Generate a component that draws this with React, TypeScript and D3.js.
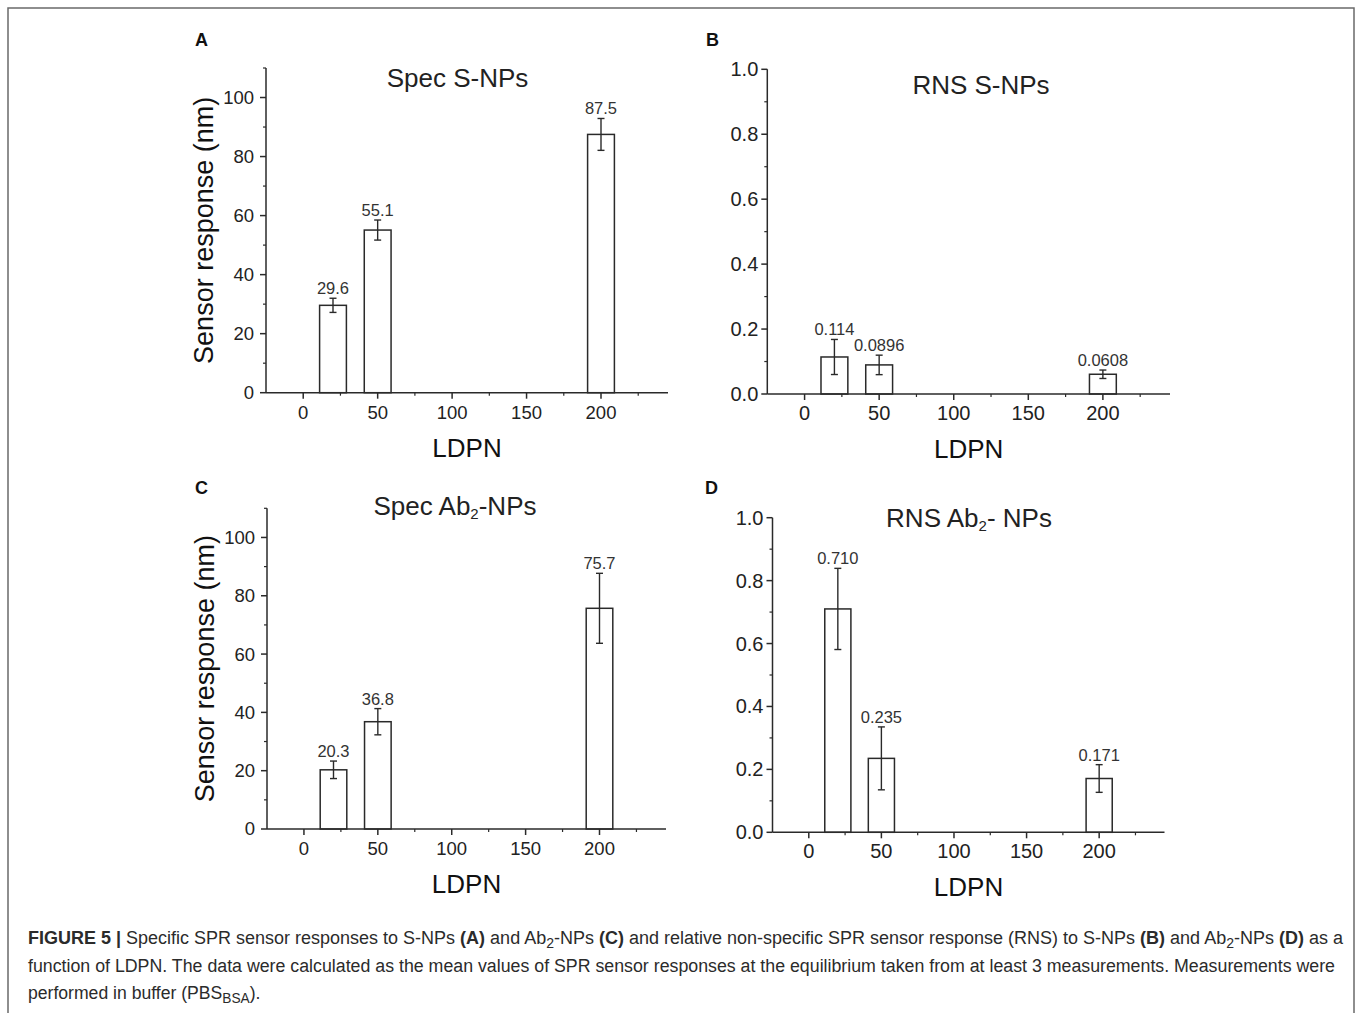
import React from "react";
import * as d3 from "d3";

// ---------- data ----------
const ldpn = [20, 50, 200];

const specSValues = [29.6, 55.1, 87.5];
const specSErrors = [2.4, 3.4, 5.4];
const specSLabels = ["29.6", "55.1", "87.5"];

const rnsSValues = [0.114, 0.0896, 0.0608];
const rnsSErrors = [0.054, 0.03, 0.013];
const rnsSLabels = ["0.114", "0.0896", "0.0608"];

const specAbValues = [20.3, 36.8, 75.7];
const specAbErrors = [3.0, 4.5, 12.0];
const specAbLabels = ["20.3", "36.8", "75.7"];

const rnsAbValues = [0.71, 0.235, 0.171];
const rnsAbErrors = [0.129, 0.1, 0.044];
const rnsAbLabels = ["0.710", "0.235", "0.171"];

const xMajorTicks = [0, 50, 100, 150, 200];
const xMinorTicks = [25, 75, 125, 175, 225];
const specMajorTicks = [0, 20, 40, 60, 80, 100];
const specMinorTicks = [10, 30, 50, 70, 90, 110];
const rnsMajorTicks = [0, 0.2, 0.4, 0.6, 0.8, 1.0];
const rnsMinorTicks = [0.1, 0.3, 0.5, 0.7, 0.9];

const xDomain: [number, number] = [-25, 245];
const specDomain: [number, number] = [0, 110];
const rnsDomain: [number, number] = [0, 1.0];
const barWidthUnits = 18;

// ---------- layout ----------
type PanelCfg = {
  letter: string;
  letterX: number;
  letterY: number;
  title: React.ReactNode;
  titleX: number;
  titleY: number;
  left: number;
  right: number;
  top: number;
  bottom: number;
  values: number[];
  errors: number[];
  labels: string[];
  yDomain: [number, number];
  yMajor: number[];
  yMinor: number[];
  yFmt: (v: number) => string;
  yLabel: boolean;
  tickFont: number;
  tickGap: number;
};

const FONT = "'Liberation Sans', Arial, Helvetica, sans-serif";
const INK = "#2a2a2a";

const sub2 = (
  <tspan baselineShift="-28%" fontSize="15">
    2
  </tspan>
);

const panels: PanelCfg[] = [
  {
    letter: "A",
    letterX: 195,
    letterY: 46,
    title: "Spec S-NPs",
    titleX: 457.5,
    titleY: 87,
    left: 266,
    right: 668,
    top: 68,
    bottom: 392.7,
    values: specSValues,
    errors: specSErrors,
    labels: specSLabels,
    yDomain: specDomain,
    yMajor: specMajorTicks,
    yMinor: specMinorTicks,
    yFmt: d3.format("d"),
    yLabel: true,
    tickFont: 18.5,
    tickGap: 12,
  },
  {
    letter: "B",
    letterX: 706,
    letterY: 46,
    title: "RNS S-NPs",
    titleX: 981,
    titleY: 94,
    left: 767.3,
    right: 1170,
    top: 69.3,
    bottom: 394,
    values: rnsSValues,
    errors: rnsSErrors,
    labels: rnsSLabels,
    yDomain: rnsDomain,
    yMajor: rnsMajorTicks,
    yMinor: rnsMinorTicks,
    yFmt: d3.format(".1f"),
    yLabel: false,
    tickFont: 20,
    tickGap: 9,
  },
  {
    letter: "C",
    letterX: 195,
    letterY: 494,
    title: (
      <>
        Spec Ab{sub2}-NPs
      </>
    ),
    titleX: 455,
    titleY: 515,
    left: 267,
    right: 666,
    top: 508.3,
    bottom: 829,
    values: specAbValues,
    errors: specAbErrors,
    labels: specAbLabels,
    yDomain: specDomain,
    yMajor: specMajorTicks,
    yMinor: specMinorTicks,
    yFmt: d3.format("d"),
    yLabel: true,
    tickFont: 18.5,
    tickGap: 12,
  },
  {
    letter: "D",
    letterX: 705,
    letterY: 494,
    title: (
      <>
        RNS Ab{sub2}- NPs
      </>
    ),
    titleX: 969,
    titleY: 527,
    left: 772.5,
    right: 1164.5,
    top: 517.7,
    bottom: 832.3,
    values: rnsAbValues,
    errors: rnsAbErrors,
    labels: rnsAbLabels,
    yDomain: rnsDomain,
    yMajor: rnsMajorTicks,
    yMinor: rnsMinorTicks,
    yFmt: d3.format(".1f"),
    yLabel: false,
    tickFont: 20,
    tickGap: 9,
  },
];

function Panel({ p }: { p: PanelCfg }) {
  const x = d3.scaleLinear().domain(xDomain).range([p.left, p.right]);
  const y = d3.scaleLinear().domain(p.yDomain).range([p.bottom, p.top]);
  const bw = x(barWidthUnits) - x(0);
  const sw = 1.5;
  return (
    <g fontFamily={FONT} fill={INK}>
      <text x={p.letterX} y={p.letterY} fontSize={18} fontWeight="bold" fill="#111">
        {p.letter}
      </text>
      <text x={p.titleX} y={p.titleY} fontSize={26} textAnchor="middle" fill="#222">
        {p.title}
      </text>
      {/* bars */}
      {ldpn.map((c, i) => {
        const v = p.values[i];
        const e = p.errors[i];
        const cx = x(c);
        return (
          <g key={i}>
            <rect
              x={cx - bw / 2}
              y={y(v)}
              width={bw}
              height={y(0) - y(v)}
              fill="#fff"
              stroke={INK}
              strokeWidth={sw}
            />
            <line x1={cx} x2={cx} y1={y(v + e)} y2={y(v - e)} stroke={INK} strokeWidth={1.4} />
            <line x1={cx - 3.5} x2={cx + 3.5} y1={y(v + e)} y2={y(v + e)} stroke={INK} strokeWidth={1.4} />
            <line x1={cx - 3.5} x2={cx + 3.5} y1={y(v - e)} y2={y(v - e)} stroke={INK} strokeWidth={1.4} />
            <text x={cx} y={y(v + e) - 4} fontSize={16.5} textAnchor="middle" fill="#333">
              {p.labels[i]}
            </text>
          </g>
        );
      })}
      {/* axes */}
      <line x1={p.left} x2={p.left} y1={p.top} y2={p.bottom} stroke={INK} strokeWidth={sw} />
      <line x1={p.left} x2={p.right} y1={p.bottom} y2={p.bottom} stroke={INK} strokeWidth={sw} />
      {p.yMajor.map((t) => (
        <g key={"ym" + t}>
          <line x1={p.left - 6} x2={p.left} y1={y(t)} y2={y(t)} stroke={INK} strokeWidth={sw} />
          <text
            x={p.left - p.tickGap}
            y={y(t)}
            dy="0.35em"
            fontSize={p.tickFont}
            textAnchor="end"
            fill="#222"
          >
            {p.yFmt(t)}
          </text>
        </g>
      ))}
      {p.yMinor.map((t) => (
        <line key={"yn" + t} x1={p.left - 3} x2={p.left} y1={y(t)} y2={y(t)} stroke={INK} strokeWidth={1.2} />
      ))}
      {xMajorTicks.map((t) => (
        <g key={"xm" + t}>
          <line x1={x(t)} x2={x(t)} y1={p.bottom} y2={p.bottom + 6} stroke={INK} strokeWidth={sw} />
          <text x={x(t)} y={p.bottom + 26} fontSize={p.tickFont} textAnchor="middle" fill="#222">
            {t}
          </text>
        </g>
      ))}
      {xMinorTicks.map((t) => (
        <line key={"xn" + t} x1={x(t)} x2={x(t)} y1={p.bottom} y2={p.bottom + 3} stroke={INK} strokeWidth={1.2} />
      ))}
      <text
        x={(p.left + p.right) / 2}
        y={p.bottom + 64}
        fontSize={26}
        textAnchor="middle"
        fill="#111"
      >
        LDPN
      </text>
      {p.yLabel && (
        <text
          transform={`translate(${p.left - 53},${(p.top + p.bottom) / 2}) rotate(-90)`}
          fontSize={27}
          textAnchor="middle"
          fill="#111"
        >
          Sensor response (nm)
        </text>
      )}
    </g>
  );
}

export default function App() {
  const capSize = 17.6;
  const capColor = "#2b2b2b";
  const sub = (s: string) => (
    <tspan baselineShift="-25%" fontSize={capSize * 0.78}>
      {s}
    </tspan>
  );
  return (
    <svg
      width={1358}
      height={1013}
      style={{ position: "absolute", left: 0, top: 0, background: "#fff" }}
    >
      <rect x={0} y={0} width={1358} height={1013} fill="#fff" />
      <path d="M8,1013 L8,8 L1354,8 L1354,1013" fill="none" stroke="#6a6a6a" strokeWidth={1.5} />
      {panels.map((p) => (
        <Panel key={p.letter} p={p} />
      ))}
      <g fontFamily={FONT} fontSize={capSize} fill={capColor}>
        <text x={28} y={944} textLength={1315} lengthAdjust="spacingAndGlyphs">
          <tspan fontWeight="bold">FIGURE 5 |</tspan> Specific SPR sensor responses to S-NPs{" "}
          <tspan fontWeight="bold">(A)</tspan> and Ab{sub("2")}-NPs <tspan fontWeight="bold">(C)</tspan> and
          relative non-specific SPR sensor response (RNS) to S-NPs <tspan fontWeight="bold">(B)</tspan> and Ab
          {sub("2")}-NPs <tspan fontWeight="bold">(D)</tspan> as a
        </text>
        <text x={28} y={971.5} textLength={1307} lengthAdjust="spacingAndGlyphs">
          function of LDPN. The data were calculated as the mean values of SPR sensor responses at the equilibrium
          taken from at least 3 measurements. Measurements were
        </text>
        <text x={28} y={999}>
          performed in buffer (PBS{sub("BSA")}).
        </text>
      </g>
    </svg>
  );
}
